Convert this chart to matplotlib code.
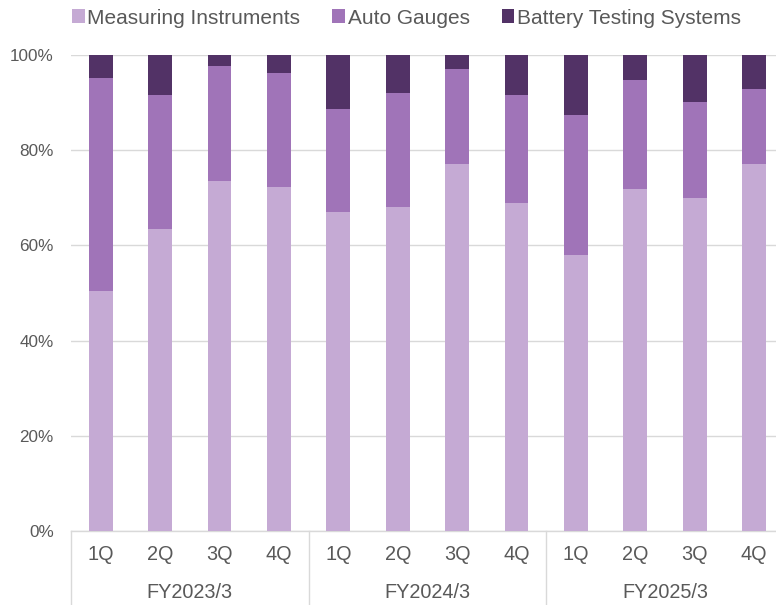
import matplotlib
matplotlib.use("Agg")
import matplotlib.pyplot as plt
import matplotlib.transforms as mtransforms
from matplotlib.patches import Patch
import numpy as np

plt.rcParams['font.family'] = ['Liberation Sans', 'DejaVu Sans']

quarters = ["1Q", "2Q", "3Q", "4Q"] * 3
fiscal_years = ["FY2023/3", "FY2024/3", "FY2025/3"]
series_names = ["Measuring Instruments", "Auto Gauges", "Battery Testing Systems"]
measuring = [50.4, 63.4, 73.5, 72.2, 67.0, 68.1, 77.1, 68.9, 58.0, 71.8, 70.0, 77.1]
auto_gauges = [44.7, 28.3, 24.2, 24.0, 21.7, 23.9, 20.0, 22.8, 29.4, 22.9, 20.1, 15.8]
battery = [4.9, 8.3, 2.3, 3.8, 11.3, 8.0, 2.9, 8.3, 12.6, 5.3, 9.9, 7.1]
colors = ["#C5AAD4", "#A074B8", "#523266"]
text_color = "#595959"
grid_color = "#D9D9D9"

W, H = 776, 605
fig = plt.figure(figsize=(W / 100, H / 100), dpi=100)
ax_left, ax_bottom, ax_top = 71, 531, 55
ax = fig.add_axes([ax_left / W, (H - ax_bottom) / H, (W - ax_left) / W, (ax_bottom - ax_top) / H])

x = np.arange(len(quarters))
bw = 0.4
ax.bar(x, measuring, bw, color=colors[0], zorder=3)
ax.bar(x, auto_gauges, bw, bottom=measuring, color=colors[1], zorder=3)
ax.bar(x, battery, bw, bottom=np.array(measuring) + np.array(auto_gauges), color=colors[2], zorder=3)

slot_px = 59.4
right_cut = (ax_left + 12 * slot_px - W) / slot_px
ax.set_xlim(-0.5, 11.5 - right_cut)
ax.set_ylim(0, 100)
ax.set_yticks(range(0, 101, 20))
ax.set_yticklabels([f"{v}%" for v in range(0, 101, 20)], color=text_color, fontsize=12.3)
ax.yaxis.grid(True, color=grid_color, linewidth=1, zorder=0)
ax.tick_params(axis='y', length=0, pad=12.5)
ax.set_xticks([])
for s in ["top", "right", "left"]:
    ax.spines[s].set_visible(False)
ax.spines["bottom"].set_color(grid_color)
ax.spines["bottom"].set_linewidth(1)

trans = mtransforms.blended_transform_factory(ax.transData, ax.transAxes)
axh = ax_bottom - ax_top
for i, q in enumerate(quarters):
    ax.text(x[i], -(555 - ax_bottom) / axh, q, transform=trans, ha='center', va='center',
            color=text_color, fontsize=14.3)
for g, fy in enumerate(fiscal_years):
    ax.text(g * 4 + 1.5, -(592 - ax_bottom) / axh, fy, transform=trans, ha='center', va='center',
            color=text_color, fontsize=14.3)
for b in [-0.5, 3.5, 7.5]:
    ax.plot([b, b], [0, -(H - ax_bottom) / axh], transform=trans, color=grid_color,
            linewidth=1, clip_on=False)

handles = [Patch(facecolor=c, edgecolor='none') for c in colors]
fig.legend(handles, series_names, loc='center left', bbox_to_anchor=(72 / W, 1 - 18 / H),
           ncol=3, frameon=False, fontsize=15, labelcolor=text_color,
           handlelength=0.61, handleheight=0.61, handletextpad=0.12, columnspacing=1.54,
           borderpad=0, borderaxespad=0)

fig.savefig("out.png", dpi=100)
